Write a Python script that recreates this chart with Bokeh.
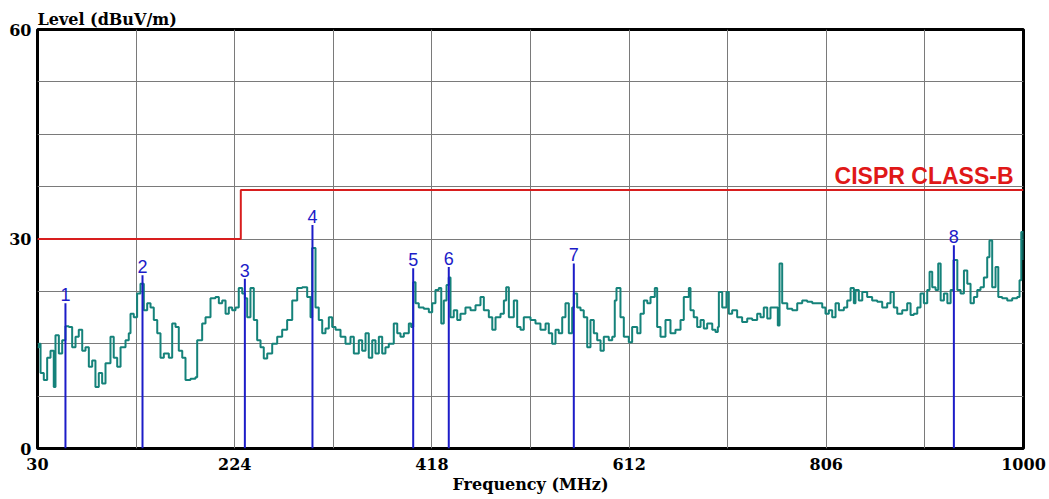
from bokeh.plotting import figure
from bokeh.models import Range1d, FixedTicker, ColumnDataSource
from bokeh.core.properties import value
from bokeh.embed import file_html
from bokeh.resources import INLINE

# ---------------- data ----------------
trace_freq = [30, 31.3, 33, 36.2, 39.5, 42.8, 46.0, 47.7, 51.0, 54.3, 57.5, 60.8, 64.1, 67.4, 70.6,
              74.0, 77.2, 80.5, 83.8, 87.0, 90.3, 93.6, 96.9, 101.8, 105.0, 108.4, 111.7, 116.6,
              119.8, 121.5, 124.7, 128.0, 131.3, 134.6, 137.9, 141.2, 144.4, 147.8, 151.0, 154.3,
              159.2, 162.5, 165.8, 169.0, 172.4, 175.6, 180.5, 185.4, 187.1, 192.0, 195.3, 200.2,
              205.1, 208.4, 211.7, 215.0, 218.2, 221.5, 224.8, 228.0, 231.4, 234.0, 236.3, 239.5,
              242.8, 246.1, 249.4, 252.6, 256.0, 260.9, 265.8, 270.7, 275.6, 280.6, 285.5, 290.4,
              295.3, 298.6, 300.2, 303.5, 306.7, 310.1, 313.3, 316.6, 319.9, 323.2, 328.1, 333.0,
              337.9, 341.2, 346.1, 349.4, 352.7, 355.9, 359.3, 362.5, 365.8, 369.1, 372.3, 375.6,
              380.5, 383.9, 387.1, 390.4, 395.3, 397.6, 399.6, 401.9, 405.1, 410.0, 415.0, 418.3,
              421.5, 424.8, 427.2, 429.7, 432.4, 434.6, 436.3, 439.5, 442.9, 446.1, 451.0, 456.0,
              460.9, 465.8, 469.1, 474.0, 477.4, 480.6, 485.5, 488.8, 491.1, 493.7, 498.6, 501.9,
              505.2, 508.4, 513.3, 515.0, 519.9, 524.8, 529.8, 533.0, 536.3, 539.6, 542.8, 546.2,
              549.4, 552.7, 556.0, 557.6, 560.9, 564.2, 567.4, 570.8, 574.0, 577.3, 580.6, 583.9,
              587.1, 592.0, 595.4, 597.9, 599.6, 603.5, 606.8, 611.7, 615.0, 620.0, 623.2, 626.5,
              629.9, 633.1, 637.3, 639.6, 642.9, 647.8, 652.7, 657.6, 662.6, 665.8, 670.8, 672.4,
              675.6, 679.0, 682.3, 685.5, 688.8, 693.8, 697.0, 699.3, 700.3, 703.6, 707.8, 710.1,
              713.4, 718.3, 723.2, 728.2, 733.1, 738.0, 741.3, 744.5, 747.9, 751.1, 756.0, 758.3,
              760.0, 762.6, 767.6, 772.5, 777.4, 782.3, 787.2, 792.2, 797.1, 802.0, 805.2, 808.5,
              811.8, 815.1, 818.4, 823.3, 826.6, 829.9, 833.1, 834.7, 838.0, 841.4, 846.2, 851.1,
              856.1, 861.0, 865.9, 869.2, 872.4, 875.8, 880.7, 885.6, 888.9, 892.1, 895.5, 898.7,
              902.0, 905.3, 907.6, 910.2, 913.5, 916.1, 918.5, 921.7, 925.1, 928.3, 931.2, 934.9,
              938.1, 941.4, 944.7, 947.9, 951.2, 954.5, 957.7, 961.0, 964.3, 966.5, 969.2, 972.5,
              975.2, 979.0, 984.0, 988.9, 993.8, 996.1, 997.8, 1000]
trace_level = [14.5, 15.0, 10.8, 9.8, 13.0, 14.0, 8.8, 16.2, 13.6, 15.5, 17.5, 17.4, 14.5, 16.0, 17.0,
               14.0, 14.5, 11.7, 12.6, 8.8, 10.8, 9.3, 12.2, 16.0, 13.0, 11.7, 14.5, 15.5,
               16.5, 19.3, 18.8, 22.2, 23.6, 19.8, 20.8, 20.2, 18.4, 16.5, 13.0, 13.6,
               13.0, 17.9, 17.4, 14.0, 13.0, 9.8, 10.0, 10.2, 15.5, 17.9, 18.8, 21.5,
               21.7, 20.8, 21.2, 19.3, 20.2, 19.8, 20.2, 23.0, 22.2, 21.5, 18.8, 23.0,
               18.4, 15.5, 14.5, 12.9, 13.6, 15.0, 16.0, 17.0, 18.4, 21.2, 23.0, 23.1,
               21.7, 18.8, 28.7, 20.2, 18.4, 16.5, 17.2, 18.8, 17.4, 17.0, 16.0, 15.0,
               16.0, 13.6, 15.5, 14.0, 16.5, 13.0, 15.5, 13.6, 16.0, 13.6, 14.5, 15.0,
               17.9, 16.5, 16.0, 16.5, 17.9, 17.4, 23.8, 20.8, 20.2, 20.0, 19.5, 20.8,
               22.7, 23.0, 17.9, 21.2, 23.4, 24.5, 18.8, 19.8, 18.4, 19.3, 20.2, 19.8,
               20.5, 21.7, 19.8, 18.8, 17.0, 18.8, 19.3, 21.2, 23.1, 18.8, 21.2, 17.4,
               17.0, 18.8, 18.8, 18.4, 17.9, 17.0, 17.9, 16.5, 15.0, 17.0, 16.5, 18.8,
               20.8, 16.5, 20.2, 22.2, 20.2, 19.8, 18.8, 14.5, 18.4, 16.5, 15.5, 14.0,
               16.0, 15.5, 16.0, 21.2, 23.0, 18.8, 16.0, 15.2, 17.4, 16.5, 19.3, 21.2,
               20.8, 21.7, 23.0, 17.4, 16.0, 18.4, 16.5, 17.0, 18.4, 21.7, 23.0, 19.8,
               18.8, 17.4, 18.4, 17.2, 17.9, 17.0, 16.7, 17.4, 22.4, 20.2, 22.4, 19.3,
               19.8, 18.8, 18.1, 18.6, 18.4, 19.3, 18.8, 20.2, 18.6, 20.2, 20.2, 17.6,
               26.5, 20.8, 20.0, 19.8, 20.8, 21.2, 21.0, 20.8, 20.8, 20.2, 19.3, 19.8,
               18.8, 20.8, 19.8, 20.2, 21.2, 23.0, 20.8, 22.7, 21.2, 22.4, 21.7, 21.2,
               21.0, 20.2, 20.8, 22.4, 20.2, 19.3, 19.8, 20.8, 19.1, 19.3, 20.2, 22.2,
               20.8, 22.7, 25.3, 23.1, 22.7, 26.5, 21.2, 22.2, 20.8, 22.7, 27.0, 22.7,
               22.2, 25.5, 23.6, 20.8, 21.7, 22.7, 23.1, 24.5, 27.4, 29.8, 23.1, 26.0,
               21.7, 21.5, 21.2, 21.5, 21.7, 24.1, 31.0, 27.0]

marker_label = ["1", "2", "3", "4", "5", "6", "7", "8"]
marker_freq = [57.5, 133.3, 234.0, 300.5, 399.6, 434.6, 557.6, 931.5]
marker_level = [20.8, 24.8, 24.3, 32.0, 25.8, 26.0, 26.5, 29.1]

limit_name = "CISPR CLASS-B"
limit_freq = [30, 230, 1000]
limit_level = [30, 37, 37]

x_ticks = [30, 224, 418, 612, 806, 1000]
x_grid = [127, 224, 321, 418, 515, 612, 709, 806, 903]
y_ticks = [0, 30, 60]
y_grid = [7.5, 15, 22.5, 30, 37.5, 45, 52.5]

x_title = "Frequency (MHz)"
y_title = "Level (dBuV/m)"

# ---------------- figure ----------------
p = figure(width=1049, height=499, output_backend="svg", toolbar_location=None,
           x_range=Range1d(30, 1000), y_range=Range1d(0, 60),
           min_border_left=37, min_border_right=26, min_border_top=29, min_border_bottom=51,
           background_fill_color="white", border_fill_color="white")

serif = "DejaVu Serif"

p.title.text = y_title
p.title.align = "left"
p.title.text_font = serif
p.title.text_font_style = "bold"
p.title.text_font_size = "16px"
p.title.text_color = "black"
p.title.standoff = 2

p.outline_line_color = "black"
p.outline_line_width = 3

for ax in (p.xaxis[0], p.yaxis[0]):
    ax.axis_line_color = None
    ax.major_tick_line_color = None
    ax.minor_tick_line_color = None
    ax.major_tick_out = 0
    ax.major_tick_in = 0
    ax.minor_tick_out = 0
    ax.minor_tick_in = 0
    ax.major_label_text_font = serif
    ax.major_label_text_font_style = "bold"
    ax.major_label_text_font_size = "16px"
    ax.major_label_text_color = "black"

p.xaxis.ticker = FixedTicker(ticks=x_ticks)
p.yaxis.ticker = FixedTicker(ticks=y_ticks)
p.xaxis.major_label_standoff = 9
p.yaxis.major_label_standoff = 6
p.xaxis.axis_label = x_title
p.xaxis.axis_label_text_font = serif
p.xaxis.axis_label_text_font_style = "bold"
p.xaxis.axis_label_text_font_size = "16px"
p.xaxis.axis_label_text_color = "black"
p.xaxis.axis_label_standoff = 2

p.xgrid.ticker = FixedTicker(ticks=x_grid)
p.ygrid.ticker = FixedTicker(ticks=y_grid)
for g in (p.xgrid[0], p.ygrid[0]):
    g.grid_line_color = "#7a7a7a"
    g.grid_line_width = 1
    g.grid_line_alpha = 1.0

# limit line
p.step(limit_freq, limit_level, mode="after", line_color="#d81e1e", line_width=2)
p.text(x=[limit_freq[-1]], y=[limit_level[-1]], text=[limit_name],
       text_font=value("Liberation Sans"), text_font_style="bold", text_font_size="23px",
       text_color="#e01818", text_align="right", text_baseline="bottom",
       x_offset=-10, y_offset=-1)

# measurement trace
p.step(trace_freq, trace_level, mode="after", line_color="#15827a", line_width=2)

# markers
msrc = ColumnDataSource(dict(freq=marker_freq, level=marker_level, label=marker_label,
                             base=[0] * len(marker_freq)))
p.segment(x0="freq", y0="base", x1="freq", y1="level", source=msrc,
          line_color="#1c1cc8", line_width=2)
p.text(x="freq", y="level", text="label", source=msrc,
       text_font=value("Liberation Sans"), text_font_size="18px", text_color="#1c1cc8",
       text_align="center", text_baseline="bottom", y_offset=-2)

open("out.html", "w").write(file_html(p, INLINE))
